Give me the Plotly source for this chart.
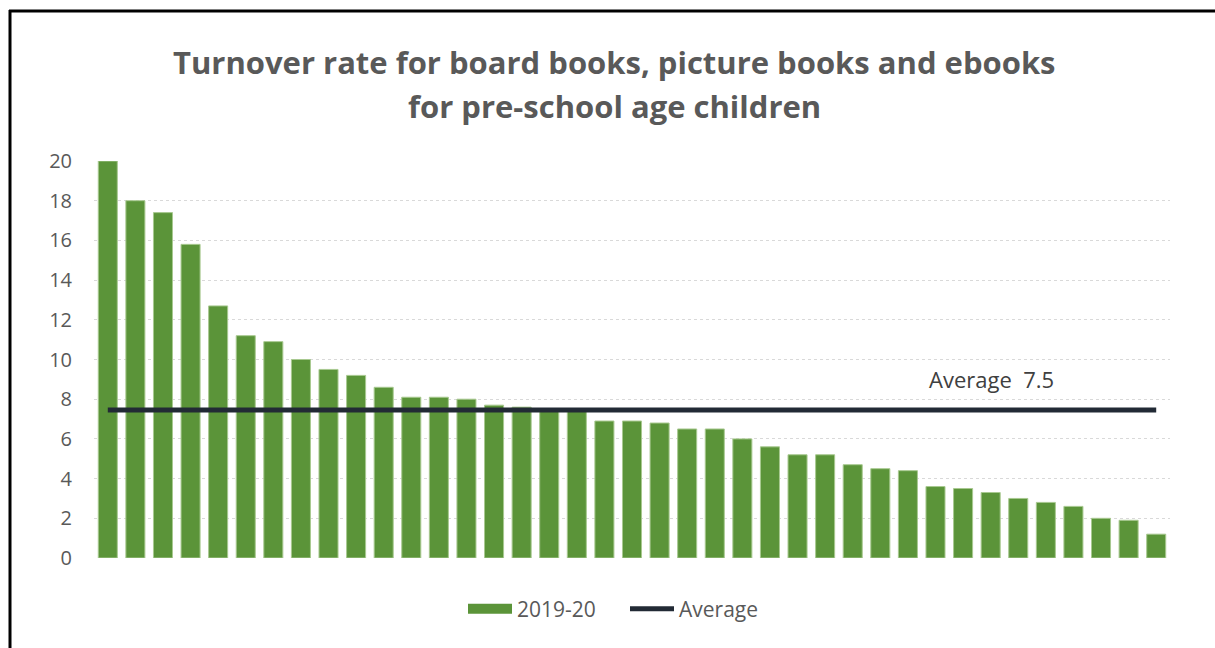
import plotly.graph_objects as go

# ---- data ----
categories = [f"B{i+1}" for i in range(39)]
turnover_2019_20 = [20.0, 18.0, 17.4, 15.8, 12.7, 11.2, 10.9, 10.0, 9.5, 9.2,
                    8.6, 8.1, 8.1, 8.0, 7.7, 7.6, 7.5, 7.5, 6.9, 6.9,
                    6.8, 6.5, 6.5, 6.0, 5.6, 5.2, 5.2, 4.7, 4.5, 4.4,
                    3.6, 3.5, 3.3, 3.0, 2.8, 2.6, 2.0, 1.9, 1.2]
AVERAGE = 7.46
y_ticks = [0, 2, 4, 6, 8, 10, 12, 14, 16, 18, 20]
title_line1 = "Turnover rate for board books, picture books and ebooks"
title_line2 = "for pre-school age children"
avg_label = "Average  7.5"

W, H = 1215, 648
L, R, T, B = 94, 45, 161, 90
pw, ph = W - L - R, H - T - B
def px(x):
    return (x - L) / pw
def py(y):
    return (H - B - y) / ph

FONT = "Open Sans"
GREY = "#595959"
GREEN = "#5b9439"

fig = go.Figure()
fig.add_trace(go.Bar(
    x=categories, y=turnover_2019_20, name="2019-20", showlegend=False,
    marker=dict(color=GREEN, line=dict(color="#a8c990", width=1)),
))
# legend entry for the bars (wide rectangular swatch)
fig.add_trace(go.Scatter(
    x=[None], y=[None], name="2019-20", mode="lines",
    line=dict(color=GREEN, width=14), hoverinfo="skip",
))
fig.add_trace(go.Scatter(
    x=categories, y=[AVERAGE] * len(categories), name="Average",
    mode="lines", line=dict(color="#222a35", width=5),
))

fig.update_layout(
    width=W, height=H,
    margin=dict(l=L, r=R, t=T, b=B),
    paper_bgcolor="white", plot_bgcolor="white",
    bargap=0.31,
    font=dict(family=FONT, color=GREY, size=20),
    showlegend=True,
    legend=dict(orientation="h", x=px(463), y=py(609), xanchor="left",
                yanchor="middle", font=dict(size=21, color=GREY),
                itemwidth=44, traceorder="normal",
                entrywidth=103, entrywidthmode="pixels"),
    xaxis=dict(showticklabels=False, showgrid=False, zeroline=False,
               showline=False, ticks=""),
    yaxis=dict(range=[0, 20], tickvals=y_ticks, showgrid=True,
               gridcolor="#d9d9d9", griddash="3px,3px", gridwidth=1,
               zeroline=False, showline=False, ticks="",
               ticklabelstandoff=21, tickfont=dict(size=20, color=GREY)),
    annotations=[
        dict(text=f"<b>{title_line1}</b>", x=px(614), y=py(62), xref="paper",
             yref="paper", showarrow=False, xanchor="center", yanchor="middle",
             font=dict(size=31, color=GREY, family=FONT)),
        dict(text=f"<b>{title_line2}</b>", x=px(614), y=py(106), xref="paper",
             yref="paper", showarrow=False, xanchor="center", yanchor="middle",
             font=dict(size=31, color=GREY, family=FONT)),
        dict(text=avg_label, x=px(991), y=py(379), xref="paper", yref="paper",
             showarrow=False, xanchor="center", yanchor="middle",
             font=dict(size=22, color="#404040", family=FONT)),
    ],
    shapes=[
        dict(type="line", xref="paper", yref="paper", x0=px(9), x1=px(1216),
             y0=py(11), y1=py(11), line=dict(color="black", width=3)),
        dict(type="line", xref="paper", yref="paper", x0=px(10), x1=px(10),
             y0=py(10), y1=py(650), line=dict(color="black", width=3)),
    ],
)

fig.write_html("out.html")
